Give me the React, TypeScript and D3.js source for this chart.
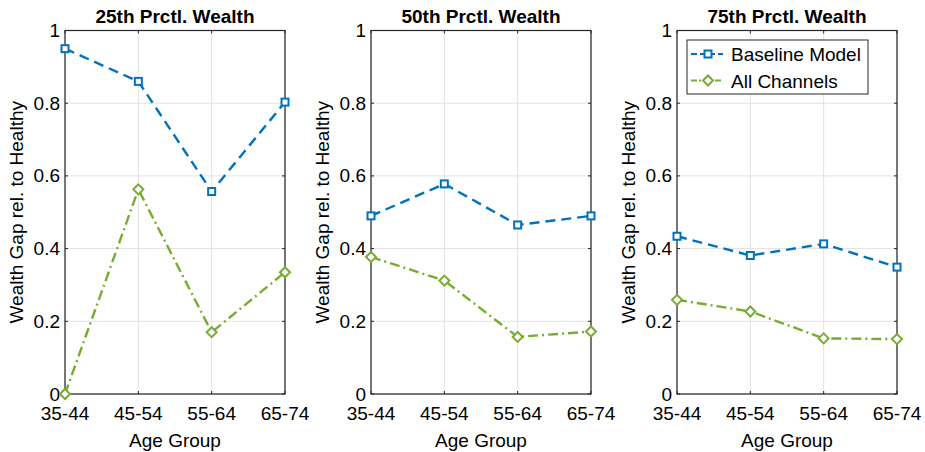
import React from "react";
import * as d3 from "d3";

const ageGroups = ["35-44", "45-54", "55-64", "65-74"];
const panelTitles = ["25th Prctl. Wealth", "50th Prctl. Wealth", "75th Prctl. Wealth"];
const baseline25 = [0.95, 0.86, 0.557, 0.803];
const allChannels25 = [0.0, 0.563, 0.17, 0.335];
const baseline50 = [0.49, 0.578, 0.465, 0.49];
const allChannels50 = [0.377, 0.312, 0.157, 0.172];
const baseline75 = [0.434, 0.381, 0.413, 0.349];
const allChannels75 = [0.259, 0.227, 0.153, 0.151];
const yTicks = [0, 0.2, 0.4, 0.6, 0.8, 1];
const seriesNames = ["Baseline Model", "All Channels"];

const BLUE = "#0072BD";
const GREEN = "#77AC30";
const FONT = "'Liberation Sans', Arial, Helvetica, sans-serif";
const FS = 19;

const panelsData = [
  { title: panelTitles[0], base: baseline25, all: allChannels25 },
  { title: panelTitles[1], base: baseline50, all: allChannels50 },
  { title: panelTitles[2], base: baseline75, all: allChannels75 },
];

const panelLefts = [65, 371, 677];
const PW = 220;
const TOP = 30.5;
const BOTTOM = 394;

function Marker({ type, x, y, color }: { type: string; x: number; y: number; color: string }) {
  if (type === "square") {
    return <rect x={x - 3.5} y={y - 3.5} width={7} height={7} fill="white" stroke={color} strokeWidth={2} />;
  }
  const r = 5;
  return (
    <path
      d={`M${x},${y - r}L${x + r},${y}L${x},${y + r}L${x - r},${y}Z`}
      fill="white"
      stroke={color}
      strokeWidth={2}
    />
  );
}

function Panel({ idx }: { idx: number }) {
  const p = panelsData[idx];
  const left = panelLefts[idx];
  const x = d3.scalePoint<string>().domain(ageGroups).range([left, left + PW]);
  const y = d3.scaleLinear().domain([0, 1]).range([BOTTOM, TOP]);
  const line = d3
    .line<number>()
    .x((_, i) => x(ageGroups[i]) as number)
    .y((d) => y(d));
  return (
    <g>
      {ageGroups.map((g) => (
        <line key={"gx" + g} x1={x(g)} x2={x(g)} y1={TOP} y2={BOTTOM} stroke="#e3e3e3" strokeWidth={1} />
      ))}
      {yTicks.map((t) => (
        <line key={"gy" + t} x1={left} x2={left + PW} y1={y(t)} y2={y(t)} stroke="#e3e3e3" strokeWidth={1} />
      ))}
      <rect x={left} y={TOP} width={PW} height={BOTTOM - TOP} fill="none" stroke="#262626" strokeWidth={1.2} />
      {ageGroups.map((g) => (
        <g key={"tx" + g}>
          <line x1={x(g)} x2={x(g)} y1={BOTTOM} y2={BOTTOM - 3} stroke="#262626" />
          <line x1={x(g)} x2={x(g)} y1={TOP} y2={TOP + 3} stroke="#262626" />
          <text x={x(g)} y={BOTTOM + 26} textAnchor="middle" fontSize={FS} fontFamily={FONT} fill="#000">
            {g}
          </text>
        </g>
      ))}
      {yTicks.map((t) => (
        <g key={"ty" + t}>
          <line x1={left} x2={left + 3} y1={y(t)} y2={y(t)} stroke="#262626" />
          <line x1={left + PW} x2={left + PW - 3} y1={y(t)} y2={y(t)} stroke="#262626" />
          <text x={left - 5} y={y(t) + 6.5} textAnchor="end" fontSize={FS} fontFamily={FONT} fill="#000">
            {d3.format("~g")(t)}
          </text>
        </g>
      ))}
      <text x={left + PW / 2} y={23} textAnchor="middle" fontSize={FS} fontWeight="bold" fontFamily={FONT} fill="#000">
        {p.title}
      </text>
      <text x={left + PW / 2} y={447} textAnchor="middle" fontSize={FS} fontFamily={FONT} fill="#000">
        Age Group
      </text>
      <text
        transform={`translate(${left - 42},${(TOP + BOTTOM) / 2}) rotate(-90)`}
        textAnchor="middle"
        fontSize={FS}
        fontFamily={FONT}
        fill="#000"
      >
        Wealth Gap rel. to Healthy
      </text>
      <path d={line(p.base) || ""} fill="none" stroke={BLUE} strokeWidth={2.4} strokeDasharray="10,6" />
      <path d={line(p.all) || ""} fill="none" stroke={GREEN} strokeWidth={2.4} strokeDasharray="10,4,2,4" />
      {p.base.map((v, i) => (
        <Marker key={"mb" + i} type="square" x={x(ageGroups[i]) as number} y={y(v)} color={BLUE} />
      ))}
      {p.all.map((v, i) => (
        <Marker key={"ma" + i} type="diamond" x={x(ageGroups[i]) as number} y={y(v)} color={GREEN} />
      ))}
    </g>
  );
}

function Legend() {
  const lx = 687;
  const ly = 40;
  const w = 181;
  const h = 54;
  const rows = [
    { name: seriesNames[0], color: BLUE, type: "square", dash: "6,3" },
    { name: seriesNames[1], color: GREEN, type: "diamond", dash: "6,2,2,2" },
  ];
  return (
    <g>
      <rect x={lx} y={ly} width={w} height={h} fill="white" stroke="#262626" strokeWidth={1} />
      {rows.map((r, i) => {
        const cy = ly + 14 + i * 26.5;
        return (
          <g key={r.name}>
            <line x1={lx + 4} x2={lx + 36} y1={cy} y2={cy} stroke={r.color} strokeWidth={2} strokeDasharray={r.dash} />
            <Marker type={r.type} x={lx + 21} y={cy} color={r.color} />
            <text x={lx + 44} y={cy + 7} fontSize={FS} fontFamily={FONT} fill="#000">
              {r.name}
            </text>
          </g>
        );
      })}
    </g>
  );
}

export default function App() {
  return (
    <svg width={925} height={452} style={{ position: "absolute", left: 0, top: 0, background: "white" }}>
      <rect width={925} height={452} fill="white" />
      {panelsData.map((_, i) => (
        <Panel key={i} idx={i} />
      ))}
      <Legend />
    </svg>
  );
}
